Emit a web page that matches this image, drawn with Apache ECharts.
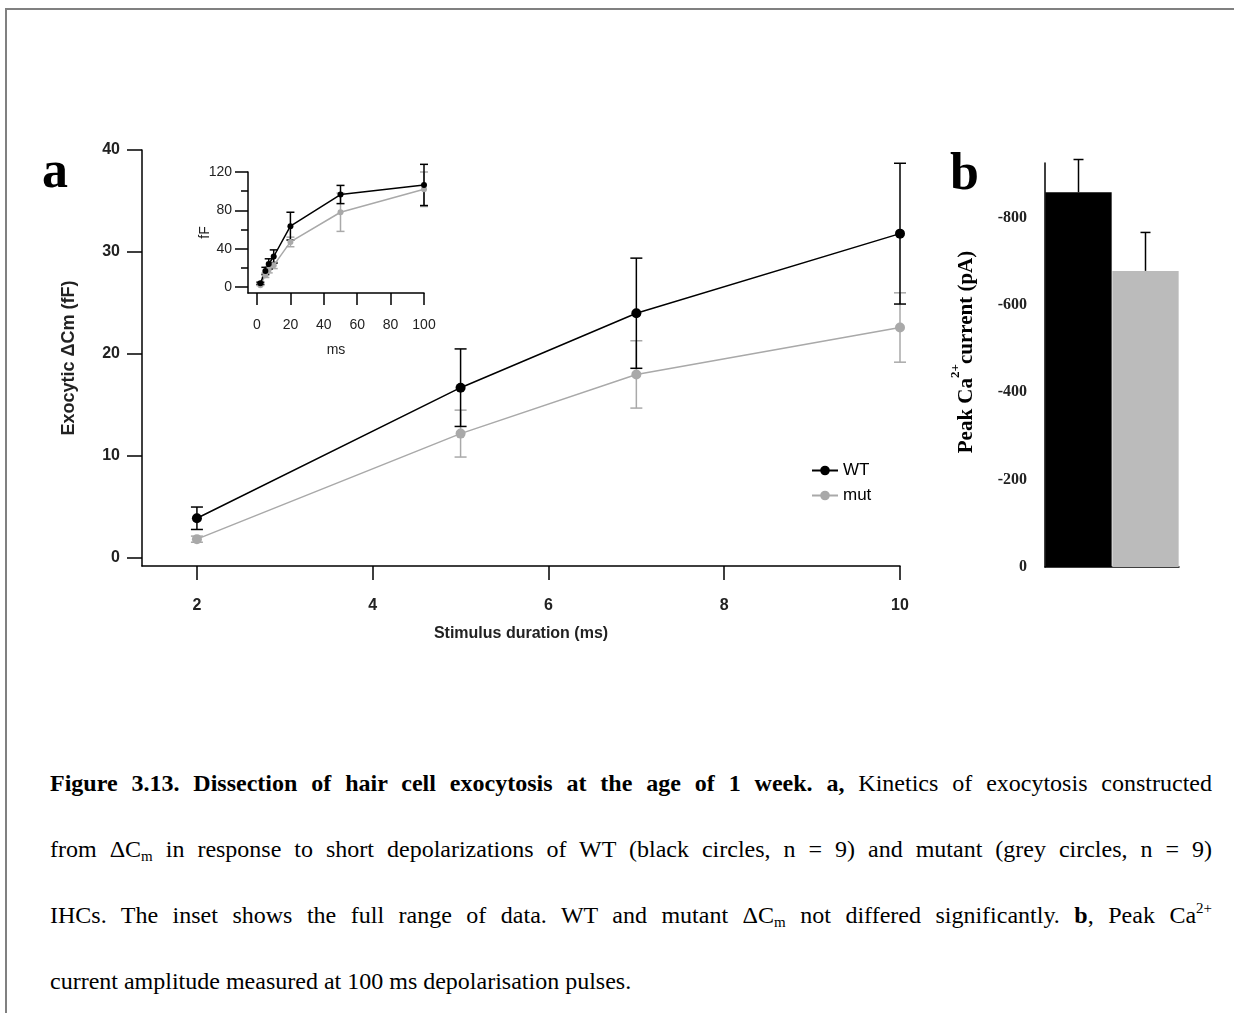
<!DOCTYPE html>
<html>
<head>
<meta charset="utf-8">
<title>Figure 3.13</title>
<script src="https://cdn.jsdelivr.net/npm/echarts@6/dist/echarts.min.js"></script>
<style>
body { margin: 0; background: #fff; }
#wrap { position: relative; width: 1234px; height: 1013px; overflow: hidden; background: #fff; }
#frame { position: absolute; left: 5px; top: 8px; right: -4px; bottom: -4px; border-top: 2px solid #808080; border-left: 2px solid #808080; }
#chart { position: absolute; left: 0; top: 0; width: 1234px; height: 700px; }
.cap { position: absolute; left: 50px; width: 1162px; font-family: 'Liberation Serif', 'Times New Roman', serif; font-size: 24px; line-height: 28px; color: #000; text-align: justify; text-align-last: justify; }
.cap.last { text-align-last: left; }
.cap sub { font-size: 15px; vertical-align: -4px; line-height: 0; }
.cap sup { font-size: 15px; vertical-align: 10px; line-height: 0; }
</style>
</head>
<body>
<div id="wrap">
  <div id="frame"></div>
  <div id="chart"></div>
  <div class="cap" style="top:769px"><b>Figure 3.13. Dissection of hair cell exocytosis at the age of 1 week. a,</b> Kinetics of exocytosis constructed</div>
  <div class="cap" style="top:835px">from ΔC<sub>m</sub> in response to short depolarizations of WT (black circles, n = 9) and mutant (grey circles, n = 9)</div>
  <div class="cap" style="top:901px">IHCs. The inset shows the full range of data. WT and mutant ΔC<sub>m</sub> not differed significantly. <b>b</b>, Peak Ca<sup>2+</sup></div>
  <div class="cap last" style="top:967px">current amplitude measured at 100 ms depolarisation pulses.</div>
</div>
<script>
// kinetics of exocytosis, delta Cm in fF (mean and SEM)
var durations = [2, 5, 7, 10, 20, 50, 100];
var wtMean = [3.9, 16.7, 24.0, 31.8, 63.5, 96.5, 106.5];
var wtSem = [1.1, 3.8, 5.4, 6.9, 14.5, 9.5, 21.5];
var mutMean = [1.85, 12.2, 18.0, 22.6, 47, 78, 102];
var mutSem = [0.3, 2.3, 3.3, 3.4, 5, 20, 18];
var nMain = 4; // main panel shows the short pulses only

// tick labels
var mainTicksX = [2, 4, 6, 8, 10];
var mainTicksY = [0, 10, 20, 30, 40];
var insetTicksX = [0, 20, 40, 60, 80, 100];
var insetTicksY = [0, 40, 80, 120];
var insetMinorY = [20, 60, 100];

// peak Ca2+ current (pA)
var barGroups = ['WT', 'mut'];
var barMean = [-858, -678];
var barSem = [-75, -88];
var barTicks = [0, -200, -400, -600, -800];

var sans = "'Liberation Sans', Arial, sans-serif";
var serif = "'Liberation Serif', 'Times New Roman', serif";
var BLACK = '#000000', GREY = '#a9a9a9', BAR_GREY = '#bbbbbb';

function pts(mean, n) {
    var out = [];
    for (var i = 0; i < n; i++) out.push([durations[i], mean[i]]);
    return out;
}
function errs(mean, sem, n) {
    var out = [];
    for (var i = 0; i < n; i++) out.push([durations[i], mean[i] - sem[i], mean[i] + sem[i]]);
    return out;
}
// vertical error bar with caps
function errRender(capHalf, color, width, topOnly) {
    return function (params, api) {
        var x = api.value(0);
        var lo = api.coord([x, api.value(1)]);
        var hi = api.coord([x, api.value(2)]);
        var st = { stroke: color, lineWidth: width };
        var kids = [
            { type: 'line', shape: { x1: lo[0], y1: lo[1], x2: hi[0], y2: hi[1] }, style: st },
            { type: 'line', shape: { x1: hi[0] - capHalf, y1: hi[1], x2: hi[0] + capHalf, y2: hi[1] }, style: st }
        ];
        if (!topOnly) kids.push({ type: 'line', shape: { x1: lo[0] - capHalf, y1: lo[1], x2: lo[0] + capHalf, y2: lo[1] }, style: st });
        return { type: 'group', children: kids };
    };
}
function lineSeries(name, mean, n, color, xi, yi, size, w) {
    return {
        name: name, type: 'line', xAxisIndex: xi, yAxisIndex: yi,
        data: pts(mean, n), symbol: 'circle', symbolSize: size,
        itemStyle: { color: color }, lineStyle: { color: color, width: w },
        z: 3, silent: true
    };
}
function errSeries(mean, sem, n, color, xi, yi, cap, w) {
    return {
        type: 'custom', xAxisIndex: xi, yAxisIndex: yi,
        data: errs(mean, sem, n), renderItem: errRender(cap, color, w, false),
        z: 2, silent: true
    };
}

var axisLine = { show: true, onZero: false, lineStyle: { color: BLACK, width: 1.5 } };
var boldLbl = { fontFamily: sans, fontWeight: 'bold', fontSize: 16, color: '#222' };
var smallLbl = { fontFamily: sans, fontSize: 14, color: '#222' };

var chart = echarts.init(document.getElementById('chart'), null, { renderer: 'canvas' });
chart.setOption({
    animation: false,
    backgroundColor: 'transparent',
    grid: [
        { left: 142, top: 150, width: 758, height: 416 },
        { left: 248, top: 172, width: 176, height: 121 },
        { left: 1045, top: 163, width: 134, height: 404 }
    ],
    xAxis: [
        {
            gridIndex: 0, type: 'value', min: 1.375, max: 10,
            axisLine: axisLine, splitLine: { show: false },
            axisTick: { customValues: mainTicksX, length: 14, lineStyle: { color: BLACK, width: 1.5 } },
            axisLabel: Object.assign({ customValues: mainTicksX, margin: 32 }, boldLbl),
            name: 'Stimulus duration (ms)', nameLocation: 'middle', nameGap: 60,
            nameTextStyle: { fontFamily: sans, fontWeight: 'bold', fontSize: 16, color: '#222' }
        },
        {
            gridIndex: 1, type: 'value', min: -5.4, max: 100,
            axisLine: axisLine, splitLine: { show: false },
            axisTick: { customValues: insetTicksX, length: 12, lineStyle: { color: BLACK, width: 1.5 } },
            axisLabel: Object.assign({ customValues: insetTicksX, margin: 25 }, smallLbl),
            name: 'ms', nameLocation: 'middle', nameGap: 50, nameTextStyle: smallLbl
        },
        {
            gridIndex: 2, type: 'category', data: barGroups,
            axisLine: axisLine, axisTick: { show: false }, axisLabel: { show: false }
        }
    ],
    yAxis: [
        {
            gridIndex: 0, type: 'value', min: -0.78, max: 40,
            axisLine: axisLine, splitLine: { show: false },
            axisTick: { customValues: mainTicksY, length: 15, lineStyle: { color: BLACK, width: 1.5 } },
            axisLabel: Object.assign({ customValues: mainTicksY, margin: 22 }, boldLbl),
            name: 'Exocytic ΔCm (fF)', nameLocation: 'middle', nameGap: 64, nameRotate: 90,
            nameTextStyle: { fontFamily: sans, fontWeight: 'bold', fontSize: 18, color: '#222' }
        },
        {
            gridIndex: 1, type: 'value', min: -6.3, max: 120,
            axisLine: axisLine, splitLine: { show: false },
            axisTick: { customValues: insetTicksY, length: 13, lineStyle: { color: BLACK, width: 1.5 } },
            axisLabel: Object.assign({ customValues: insetTicksY, margin: 16 }, smallLbl),
            name: 'fF', nameLocation: 'middle', nameGap: 36, nameRotate: 90, nameMoveOverlap: false,
            nameTextStyle: smallLbl
        },
        {
            // minor ticks of the inset
            gridIndex: 1, type: 'value', min: -6.3, max: 120, position: 'left',
            axisLine: { show: false, onZero: false }, splitLine: { show: false }, axisLabel: { show: false },
            axisTick: { show: true, customValues: insetMinorY, length: 7, lineStyle: { color: BLACK, width: 1.5 } }
        },
        {
            gridIndex: 2, type: 'value', inverse: true, min: -925, max: 0,
            axisLine: axisLine, splitLine: { show: false },
            axisTick: { customValues: barTicks, length: 12, lineStyle: { color: BLACK, width: 1.5 } },
            axisLabel: { customValues: barTicks, margin: 18, fontFamily: serif, fontWeight: 'bold', fontSize: 16, color: '#222' },
            name: '{t|Peak Ca}{s|2+}{t|current (pA)}', nameLocation: 'middle', nameGap: 68, nameRotate: 90,
            nameTextStyle: {
                padding: [0, 0, 0, 26],
                rich: {
                    t: { fontFamily: serif, fontWeight: 'bold', fontSize: 21, color: '#000', lineHeight: 28, verticalAlign: 'bottom' },
                    s: { fontFamily: serif, fontWeight: 'bold', fontSize: 13, color: '#000', lineHeight: 28, verticalAlign: 'top' }
                }
            }
        }
    ],
    legend: {
        left: 806, top: 457, orient: 'vertical', itemWidth: 26, itemHeight: 12, itemGap: 8,
        data: ['WT', 'mut'], selectedMode: false,
        textStyle: { fontFamily: sans, fontSize: 17, color: '#000' }
    },
    graphic: [
        { type: 'text', x: 42, y: 148, style: { text: 'a', font: 'bold 52px ' + serif, fill: BLACK, textBaseline: 'alphabetic' } },
        { type: 'text', x: 950, y: 150, style: { text: 'b', font: 'bold 52px ' + serif, fill: BLACK, textBaseline: 'alphabetic' } }
    ],
    series: [
        errSeries(mutMean, mutSem, nMain, GREY, 0, 0, 6, 1.5),
        lineSeries('mut', mutMean, nMain, GREY, 0, 0, 10, 1.5),
        errSeries(wtMean, wtSem, nMain, BLACK, 0, 0, 6, 1.5),
        lineSeries('WT', wtMean, nMain, BLACK, 0, 0, 10, 1.5),

        errSeries(mutMean, mutSem, durations.length, GREY, 1, 1, 4, 1.5),
        lineSeries('mut (all)', mutMean, durations.length, GREY, 1, 1, 6, 1.5),
        errSeries(wtMean, wtSem, durations.length, BLACK, 1, 1, 4, 1.5),
        lineSeries('WT (all)', wtMean, durations.length, BLACK, 1, 1, 6, 1.5),

        {
            type: 'bar', xAxisIndex: 2, yAxisIndex: 3, barWidth: '99%', silent: true,
            data: [
                { value: barMean[0], itemStyle: { color: BLACK } },
                { value: barMean[1], itemStyle: { color: BAR_GREY } }
            ]
        },
        {
            type: 'custom', xAxisIndex: 2, yAxisIndex: 3, silent: true, z: 3,
            data: barGroups.map(function (g, i) { return [i, barMean[i], barMean[i] + barSem[i]]; }),
            renderItem: errRender(5, BLACK, 1.5, true)
        }
    ]
});
</script>
</body>
</html>
